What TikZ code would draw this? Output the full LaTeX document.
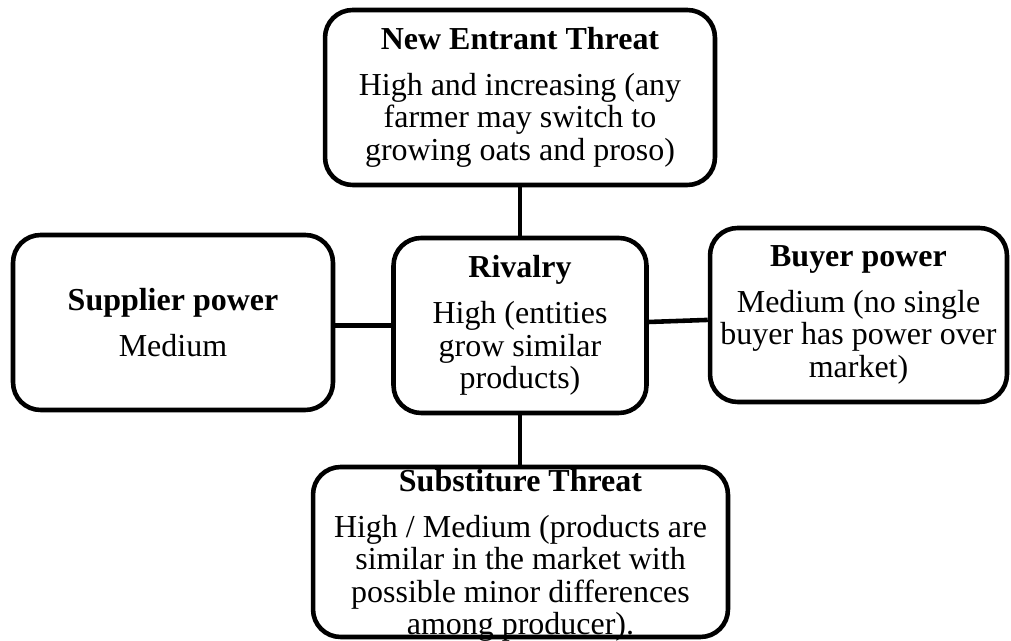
\documentclass[tikz,border=0pt]{standalone}
\usepackage{fontspec}
\setmainfont{Liberation Serif}
\usepackage{tikz}
\newcommand\boxLine{2.6pt}
\newcommand\boxRound{0.55cm}
\newcommand\boxH{3.5cm}
\newcommand{\forceText}[2]{\textbf{#1}\\[7.5pt]#2}

\begin{document}
\begin{tikzpicture}[x=0.02cm, y=-0.02cm,
        forcebox/.style={draw=black, line width=\boxLine, rounded corners=\boxRound, inner sep=0pt, minimum height=\boxH},
        forcetext/.style={align=center, inner sep=0pt, font=\fontsize{18.2}{18.5}\selectfont},
        link/.style={draw=black, line width=\boxLine}]
    \useasboundingbox (0,0) rectangle (1011,641);

    % frames of the five forces
    \node[forcebox, minimum width=7.8cm] (entrant) at (520, 97.5) {};
    \node[forcebox, minimum width=6.4cm] (supplier) at (173, 322.5) {};
    \node[forcebox, minimum width=5.06cm] (rivalry) at (520, 325.5) {};
    \node[forcebox, minimum width=5.94cm, minimum height=3.48cm] (buyer) at (858.5, 315) {};
    \node[forcebox, minimum width=8.3cm, minimum height=3.4cm] (subst) at (520.5, 552) {};

    % texts, centred in their frames
    \node[forcetext] (entrantText) at (entrant) {\forceText{New Entrant Threat}{High and increasing (any\\farmer may switch to\\growing oats and proso)}};
    \node[forcetext] (supplierText) at (supplier) {\forceText{Supplier power}{Medium}};
    \node[forcetext] (rivalryText) at (rivalry) {\forceText{Rivalry}{High (entities\\grow similar\\products)}};
    \node[forcetext] (buyerText) at (buyer) {\forceText{Buyer power}{Medium (no single\\buyer has power over\\market)}};
    \node[forcetext] (substText) at ([yshift=-2pt]subst.center) {\forceText{Substiture Threat}{High / Medium (products are\\similar in the market with\\possible minor differences\\among producer).}};

    % links to the centre
    \draw[link] (rivalry.north) -- (rivalry.north |- entrant.south);
    \draw[link] (rivalry.south) -- (rivalry.south |- subst.north);
    \draw[link] (rivalry.west) -- (rivalry.west -| supplier.east);
    \draw[link] ([yshift=2pt]rivalry.east) -- ([yshift=-2.8pt]buyer.west);

\end{tikzpicture}
\end{document}
